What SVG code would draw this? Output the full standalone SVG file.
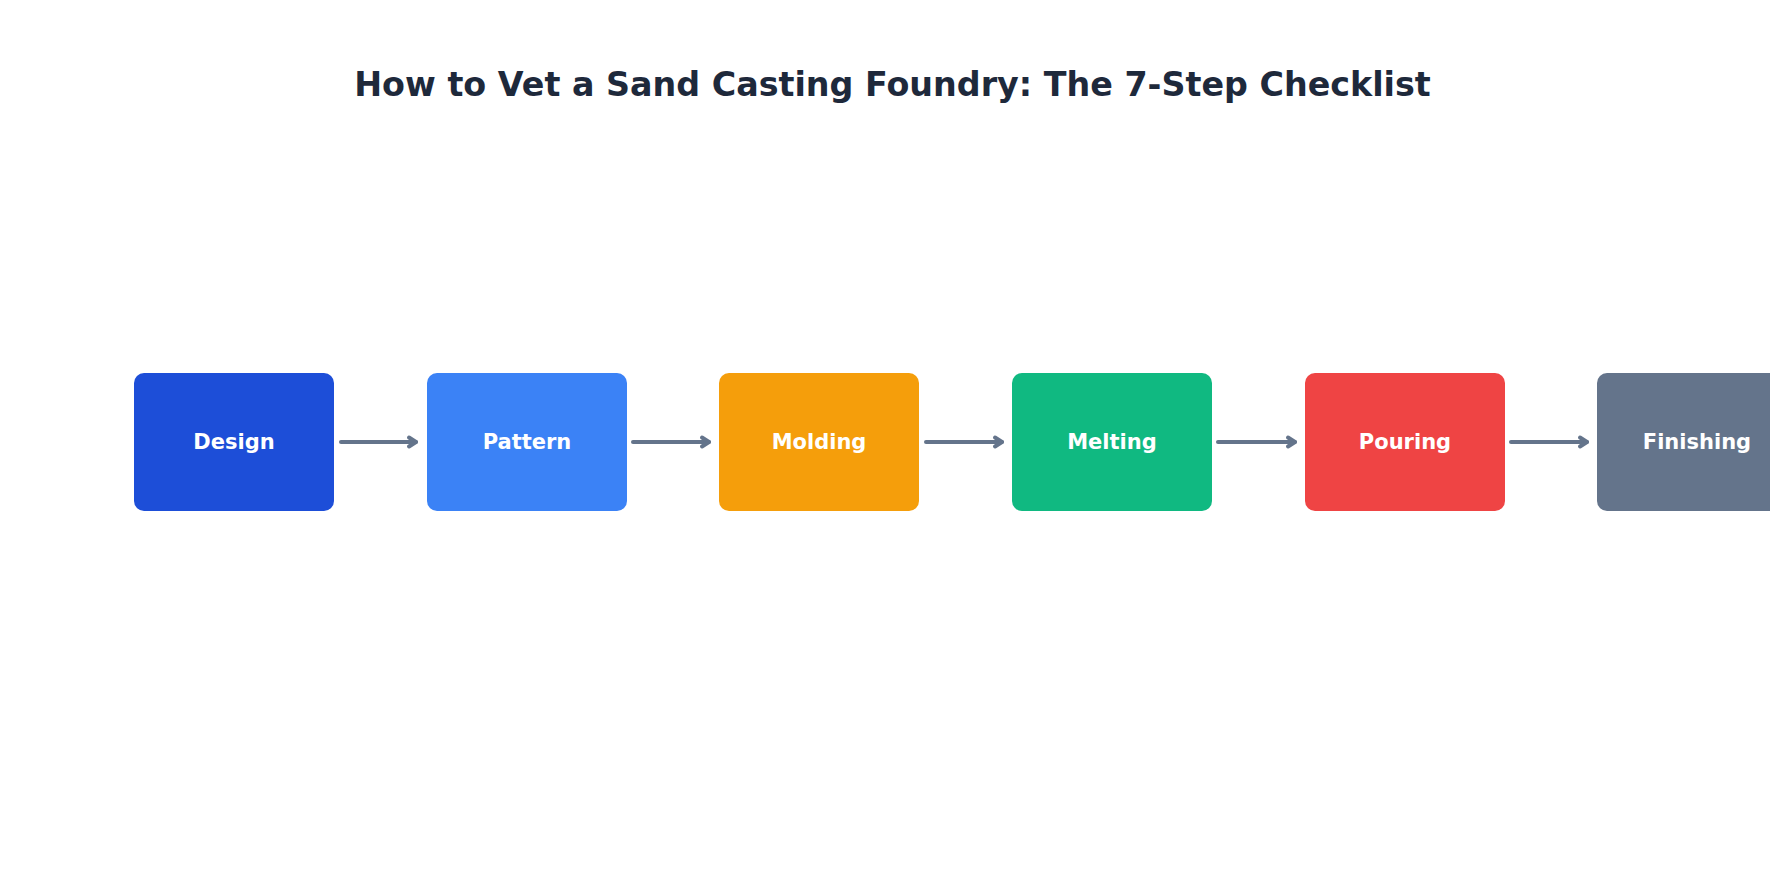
<svg xmlns="http://www.w3.org/2000/svg" width="1785" height="885" viewBox="0 0 1785 885">
<style>
.title{font-family:"DejaVu Sans",sans-serif;font-weight:bold;font-size:33.35px;fill:#1e293b;text-anchor:middle}
.lbl{font-family:"DejaVu Sans",sans-serif;font-weight:bold;font-size:21px;fill:#ffffff;text-anchor:middle;dominant-baseline:central}
.conn{fill:none;stroke:#64748b;stroke-width:4;stroke-linecap:round;stroke-linejoin:round}
</style>
<defs>
<clipPath id="cut"><rect x="0" y="0" width="1770" height="885"/></clipPath>
<marker id="ah" markerUnits="userSpaceOnUse" markerWidth="20" markerHeight="20" refX="12" refY="10" orient="auto" viewBox="0 0 20 20">
<path d="M5,5.5 L12,10 L5,14.5" fill="none" stroke="#64748b" stroke-width="4" stroke-linecap="round" stroke-linejoin="round"/>
</marker>
</defs>
<rect width="1785" height="885" fill="#ffffff"/>
<text class="title" x="892.5" y="96">How to Vet a Sand Casting Foundry: The 7-Step Checklist</text>
<g id="connectors">
<path class="conn" d="M341,442 L416,442" marker-end="url(#ah)"/>
<path class="conn" d="M633,442 L709,442" marker-end="url(#ah)"/>
<path class="conn" d="M926,442 L1002,442" marker-end="url(#ah)"/>
<path class="conn" d="M1218,442 L1295,442" marker-end="url(#ah)"/>
<path class="conn" d="M1511,442 L1587,442" marker-end="url(#ah)"/>
</g>
<g id="design"><rect x="134" y="373" width="200" height="138" rx="10" fill="#1d4ed8"/><text class="lbl" x="234" y="442">Design</text></g>
<g id="pattern"><rect x="427" y="373" width="200" height="138" rx="10" fill="#3b82f6"/><text class="lbl" x="527" y="442">Pattern</text></g>
<g id="molding"><rect x="719" y="373" width="200" height="138" rx="10" fill="#f59e0b"/><text class="lbl" x="819" y="442">Molding</text></g>
<g id="melting"><rect x="1012" y="373" width="200" height="138" rx="10" fill="#10b981"/><text class="lbl" x="1112" y="442">Melting</text></g>
<g id="pouring"><rect x="1305" y="373" width="200" height="138" rx="10" fill="#ef4444"/><text class="lbl" x="1405" y="442">Pouring</text></g>
<g id="finishing" clip-path="url(#cut)"><rect x="1597" y="373" width="200" height="138" rx="10" fill="#64748b"/><text class="lbl" x="1697" y="442">Finishing</text></g>
</svg>
